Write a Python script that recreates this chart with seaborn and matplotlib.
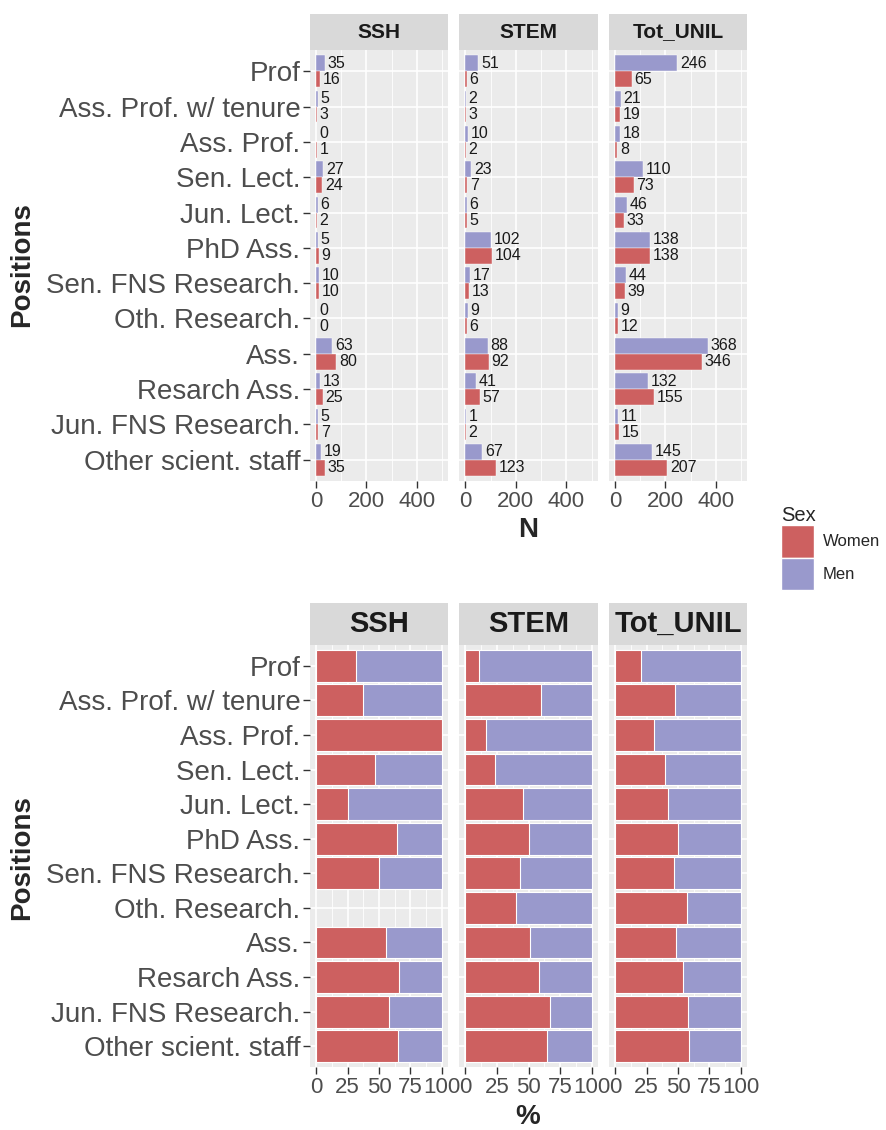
import numpy as np
import pandas as pd
import matplotlib
matplotlib.use("Agg")
import matplotlib.pyplot as plt
import seaborn as sns
from matplotlib.ticker import MultipleLocator
from matplotlib.patches import Patch

# ---------------- data ----------------
positions = ["Prof", "Ass. Prof. w/ tenure", "Ass. Prof.", "Sen. Lect.", "Jun. Lect.",
             "PhD Ass.", "Sen. FNS Research.", "Oth. Research.", "Ass.", "Resarch Ass.",
             "Jun. FNS Research.", "Other scient. staff"]
faculties = ["SSH", "STEM", "Tot_UNIL"]
sexes = ["Women", "Men"]

ssh_men = [35, 5, 0, 27, 6, 5, 10, 0, 63, 13, 5, 19]
ssh_women = [16, 3, 1, 24, 2, 9, 10, 0, 80, 25, 7, 35]
stem_men = [51, 2, 10, 23, 6, 102, 17, 9, 88, 41, 1, 67]
stem_women = [6, 3, 2, 7, 5, 104, 13, 6, 92, 57, 2, 123]
tot_men = [246, 21, 18, 110, 46, 138, 44, 9, 368, 132, 11, 145]
tot_women = [65, 19, 8, 73, 33, 138, 39, 12, 346, 155, 15, 207]

counts = {
    ("SSH", "Men"): ssh_men, ("SSH", "Women"): ssh_women,
    ("STEM", "Men"): stem_men, ("STEM", "Women"): stem_women,
    ("Tot_UNIL", "Men"): tot_men, ("Tot_UNIL", "Women"): tot_women,
}

rows = []
for (fac, sex), vals in counts.items():
    for pos, v in zip(positions, vals):
        rows.append({"Faculty": fac, "Sex": sex, "Position": pos, "N": v})
df = pd.DataFrame(rows)

wide = df.pivot_table(index=["Faculty", "Position"], columns="Sex", values="N").reset_index()
wide["Total"] = wide["Women"] + wide["Men"]
wide["pct_women"] = 100 * wide["Women"] / wide["Total"].replace(0, np.nan)
wide["full"] = np.where(wide["Total"] > 0, 100.0, np.nan)

# ---------------- style ----------------
WOMEN = "#CD6060"
MEN = "#9999CC"
palette = {"Women": WOMEN, "Men": MEN}
PANEL_BG = "#EBEBEB"
STRIP_BG = "#D9D9D9"
TICK_TXT = "#4D4D4D"

sns.set_theme(style="white")
plt.rcParams["font.family"] = ["Liberation Sans", "DejaVu Sans"]

W, H = 887, 1130
fig = plt.figure(figsize=(W / 100, H / 100), dpi=100)

def frac(x0, y0, x1, y1):
    return [x0 / W, 1 - y1 / H, (x1 - x0) / W, (y1 - y0) / H]

panel_x = [(310, 448), (459, 598), (609, 747)]

def style_panel(ax, first, major, minor, xlim, ylab_size=20, xtick_size=16):
    ax.set_facecolor(PANEL_BG)
    for s in ax.spines.values():
        s.set_visible(False)
    ax.set_xlim(*xlim)
    ax.set_ylim(len(positions) - 0.4, -0.6)
    ax.xaxis.set_major_locator(MultipleLocator(major))
    ax.xaxis.set_minor_locator(MultipleLocator(minor))
    ax.grid(True, which="major", axis="both", color="white", linewidth=1.2)
    ax.grid(True, which="minor", axis="x", color="white", linewidth=0.6)
    ax.set_axisbelow(True)
    ax.tick_params(axis="x", which="major", bottom=True, length=5, width=1,
                   color="#333333", labelsize=xtick_size, labelcolor=TICK_TXT, pad=2)
    ax.tick_params(axis="x", which="minor", bottom=False)
    if first:
        ax.tick_params(axis="y", left=True, length=5, width=1, color="#333333",
                       labelsize=ylab_size, labelcolor=TICK_TXT, pad=2)
    else:
        ax.tick_params(axis="y", left=False, labelleft=False)
    ax.set_xlabel("")
    ax.set_ylabel("")

def strip(y0, y1, x0, x1, text, size):
    sax = fig.add_axes(frac(x0, y0, x1, y1))
    sax.set_facecolor(STRIP_BG)
    sax.set_xticks([]); sax.set_yticks([])
    for s in sax.spines.values():
        s.set_visible(False)
    sax.text(0.5, 0.5, text, ha="center", va="center", fontsize=size,
             fontweight="bold", color="#1A1A1A", transform=sax.transAxes)

# ---------------- top: counts ----------------
top_y0, top_y1 = 50, 481
for i, fac in enumerate(faculties):
    x0, x1 = panel_x[i]
    strip(14, top_y0, x0, x1, fac, 15)
    ax = fig.add_axes(frac(x0, top_y0, x1, top_y1))
    sub = df[df["Faculty"] == fac]
    sns.barplot(data=sub, y="Position", x="N", hue="Sex", hue_order=["Men", "Women"],
                order=positions, palette=palette, orient="h", width=0.9, gap=0,
                saturation=1, errorbar=None, edgecolor="white", linewidth=0.3,
                legend=False, ax=ax)
    for c in ax.containers:
        ax.bar_label(c, fmt="%d", padding=2, fontsize=11.5, color="#1A1A1A")
    style_panel(ax, i == 0, 200, 100, (-25, 525))

fig.text(528 / W, 1 - 530 / H, "N", ha="center", va="center", fontsize=20, fontweight="bold")
fig.text(22 / W, 1 - 265 / H, "Positions", ha="center", va="center", rotation=90,
         fontsize=20, fontweight="bold")

# ---------------- bottom: percentages ----------------
bot_y0, bot_y1 = 645, 1067
for i, fac in enumerate(faculties):
    x0, x1 = panel_x[i]
    strip(603, bot_y0, x0, x1, fac, 21)
    ax = fig.add_axes(frac(x0, bot_y0, x1, bot_y1))
    sub = wide[(wide["Faculty"] == fac) & wide["Total"].gt(0)]
    sns.barplot(data=sub, y="Position", x="full", order=positions, color=MEN, orient="h",
                width=0.92, saturation=1, errorbar=None, edgecolor="white",
                linewidth=0.8, ax=ax)
    sns.barplot(data=sub, y="Position", x="pct_women", order=positions, color=WOMEN,
                orient="h", width=0.92, saturation=1, errorbar=None, edgecolor="white",
                linewidth=0.8, ax=ax)
    style_panel(ax, i == 0, 25, 12.5, (-5, 105))

fig.text(528 / W, 1 - 1117 / H, "%", ha="center", va="center", fontsize=20, fontweight="bold")
fig.text(22 / W, 1 - 858 / H, "Positions", ha="center", va="center", rotation=90,
         fontsize=20, fontweight="bold")

# ---------------- legend ----------------
handles = [Patch(facecolor=palette[s], edgecolor="white") for s in sexes]
leg = fig.legend(handles, sexes, title="Sex", loc="upper left",
                 bbox_to_anchor=(766 / W, 1 - 491 / H), frameon=False, fontsize=12,
                 title_fontsize=14.5, handlelength=2.0, handleheight=2.6,
                 labelspacing=0.02, handletextpad=0.5, alignment="left")

fig.savefig("out.png", dpi=100)
